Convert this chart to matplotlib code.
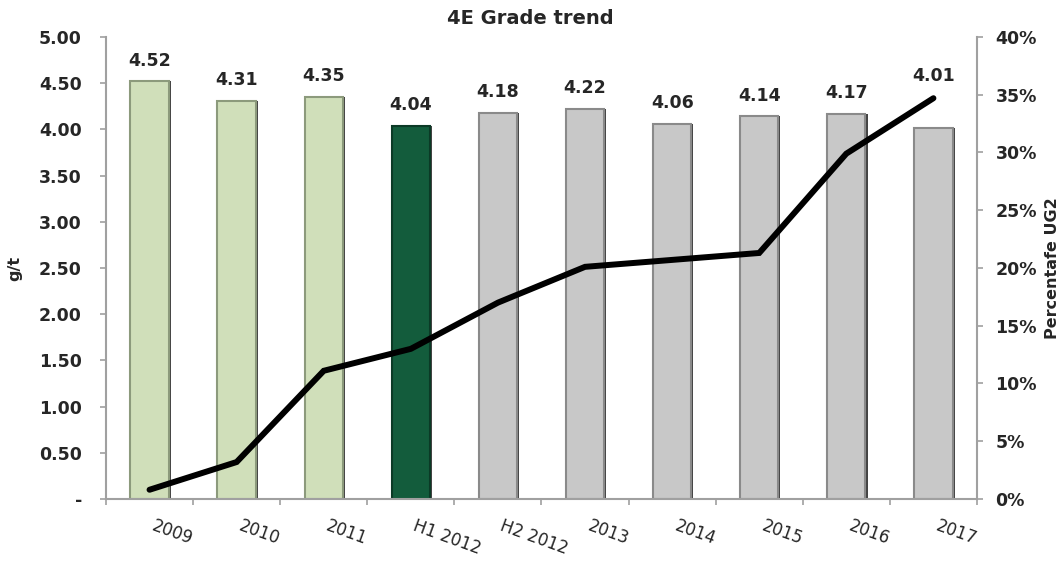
import numpy as np
from matplotlib import pyplot as plt
from matplotlib import patheffects as pe
from matplotlib.ticker import FixedLocator, FuncFormatter

# data
periods = ['2009', '2010', '2011', 'H1 2012', 'H2 2012',
           '2013', '2014', '2015', '2016', '2017']
grade = [4.52, 4.31, 4.35, 4.04, 4.18, 4.22, 4.06, 4.14, 4.17, 4.01]
ug2_pct = [0.8, 3.2, 11.1, 13.0, 17.0, 20.1, 20.7, 21.3, 29.9, 34.7]

# styling
light, dark, grey = '#d0dfba', '#135c3c', '#c8c8c8'
bar_colors = [light] * 3 + [dark] + [grey] * 6
edge_colors = ['#8c9a7c'] * 3 + ['#0b3a26'] + ['#8a8a8a'] * 6
spine_col = '#a0a0a0'
txt_col = '#262626'

plt.rcParams['font.family'] = ['DejaVu Sans']

fig = plt.figure(figsize=(10.61, 5.63), dpi=100)
ax = fig.add_axes([0.0999, 0.1137, 0.8209, 0.8206])

x = np.arange(len(periods))
bars = ax.bar(x, grade, width=0.44, color=bar_colors,
              edgecolor=edge_colors, linewidth=1.5, zorder=2)
# darker right-hand bevel
for b in bars:
    b.set_path_effects([pe.SimplePatchShadow(offset=(1.5, 0), shadow_rgbFace='#303030',
                                             alpha=0.9), pe.Normal()])

# value labels (last one lifted above the line)
for i, (xi, v) in enumerate(zip(x, grade)):
    off = 38 if i == len(grade) - 1 else 15
    ax.annotate(f'{v:.2f}', (xi, v), xytext=(0, off),
                textcoords='offset points', ha='center', va='center',
                fontsize=12.5, fontweight='bold', color=txt_col)

ax.set_xlim(-0.5, len(periods) - 0.5)
ax.set_ylim(0, 5)
ax.set_yticks(np.arange(0, 5.01, 0.5))
ax.yaxis.set_major_formatter(FuncFormatter(lambda v, p: '-' if v == 0 else f'{v:.2f}'))
ax.tick_params(axis='y', length=4.3, width=1.2, color=spine_col, pad=13,
               labelsize=12.5, labelcolor=txt_col)
for lab in ax.get_yticklabels():
    lab.set_fontweight('bold')

# x: tick marks at category edges, labels at centres
ax.xaxis.set_major_locator(FixedLocator(np.arange(-0.5, len(periods), 1.0)))
ax.xaxis.set_major_formatter(FuncFormatter(lambda v, p: ''))
ax.xaxis.set_minor_locator(FixedLocator(x))
ax.set_xticklabels(periods, minor=True)
ax.tick_params(axis='x', which='major', length=4.3, width=1.2, color=spine_col)
ax.tick_params(axis='x', which='minor', length=0, pad=13, labelsize=12,
               labelcolor=txt_col)
for lab in ax.get_xticklabels(minor=True):
    lab.set_rotation(-20)
    lab.set_ha('left')
    lab.set_va('top')

for s in ['top', 'right']:
    ax.spines[s].set_visible(False)
for s in ['left', 'bottom']:
    ax.spines[s].set_color(spine_col)
    ax.spines[s].set_linewidth(1.5)

ax.set_ylabel('g/t', fontsize=11.5, fontweight='bold', color=txt_col, labelpad=12)

# secondary axis with % UG2
ax2 = ax.twinx()
ax2.plot(x, ug2_pct, color='black', linewidth=4.3, solid_capstyle='round',
         solid_joinstyle='miter', zorder=3)
ax2.set_ylim(0, 40)
ax2.set_yticks(np.arange(0, 41, 5))
ax2.yaxis.set_major_formatter(FuncFormatter(lambda v, p: f'{v:.0f}%'))
ax2.tick_params(axis='y', length=4.3, width=1.2, color=spine_col, pad=9,
                labelsize=12.5, labelcolor=txt_col)
for lab in ax2.get_yticklabels():
    lab.set_fontweight('bold')
for s in ['top', 'left', 'bottom']:
    ax2.spines[s].set_visible(False)
ax2.spines['right'].set_color(spine_col)
ax2.spines['right'].set_linewidth(1.5)
ax2.set_ylabel('Percentafe UG2', fontsize=11.5, fontweight='bold',
               color=txt_col, labelpad=6)

fig.text(0.5, 0.968, '4E Grade trend', ha='center', va='center',
         fontsize=14, fontweight='bold', color=txt_col)

fig.savefig('out.png', dpi=100)
